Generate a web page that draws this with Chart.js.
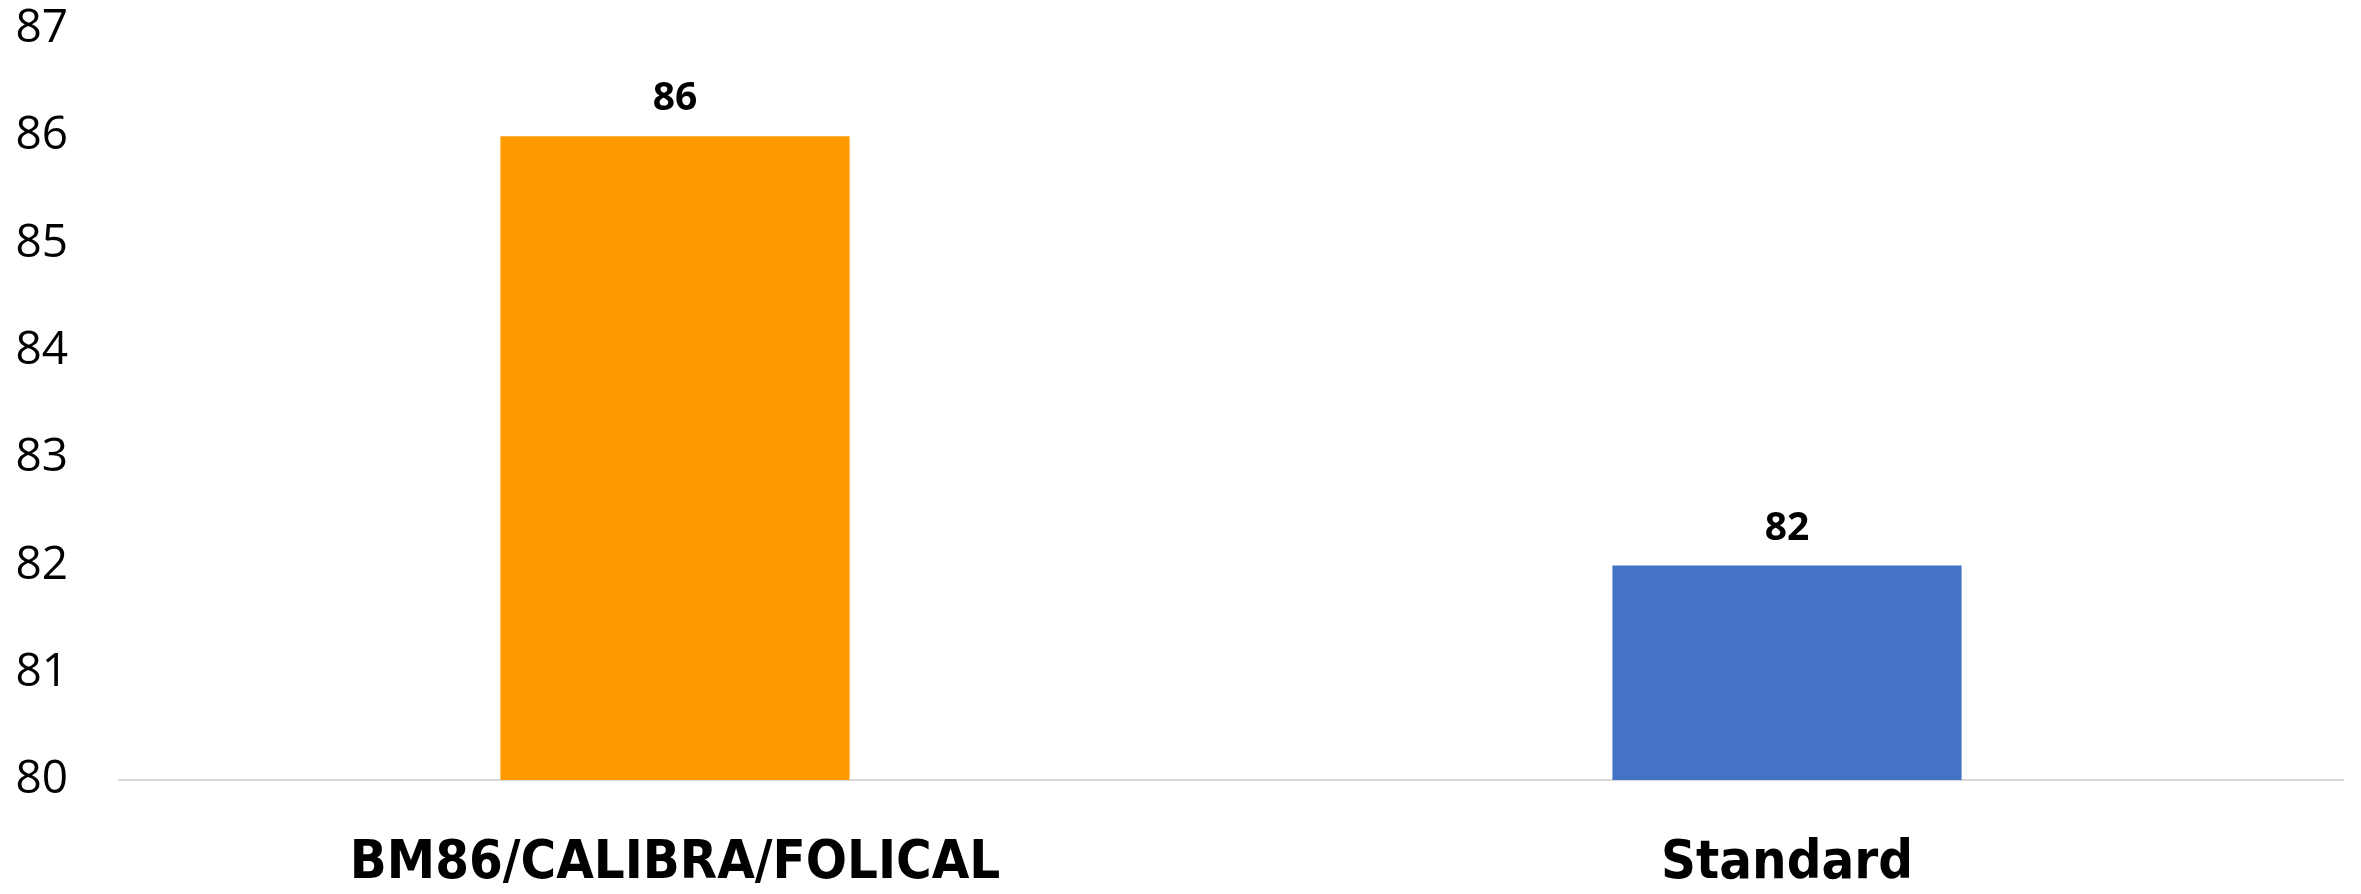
<!DOCTYPE html>
<html>
<head>
<meta charset="utf-8">
<script src="https://cdn.jsdelivr.net/npm/chart.js@4"></script>
<style>
  html, body { margin: 0; padding: 0; background: #fff; }
  #wrap { width: 2361px; height: 894px; }
</style>
</head>
<body>
<div id="wrap"><canvas id="barChart"></canvas></div>
<script>
// ---- data ----
const categories = ['BM86/CALIBRA/FOLICAL', 'Standard'];
const values     = [86, 82];
const barColors  = ['#FF9900', '#4472C4'];
const yTicks     = [80, 81, 82, 83, 84, 85, 86, 87];

// value labels above each bar
const valueLabels = {
  id: 'valueLabels',
  afterDatasetsDraw(chart) {
    const ctx = chart.ctx;
    const meta = chart.getDatasetMeta(0);
    ctx.save();
    ctx.font = 'bold 39px "Open Sans"';
    ctx.fillStyle = '#000';
    ctx.textAlign = 'center';
    ctx.textBaseline = 'middle';
    meta.data.forEach((bar, i) => {
      ctx.fillText(values[i], bar.x, bar.y - 37);
    });
    ctx.restore();
  }
};

const ctx = document.getElementById('barChart').getContext('2d');
new Chart(ctx, {
  type: 'bar',
  data: {
    labels: categories,
    datasets: [{
      data: values,
      backgroundColor: barColors,
      borderWidth: 0,
      categoryPercentage: 1,
      barPercentage: 0.314
    }]
  },
  options: {
    responsive: true,
    maintainAspectRatio: false,
    animation: false,
    layout: { padding: { left: 16, right: 18, top: 29, bottom: 0 } },
    plugins: {
      legend: { display: false },
      tooltip: { enabled: false }
    },
    scales: {
      y: {
        min: yTicks[0],
        max: yTicks[yTicks.length - 1],
        afterBuildTicks: axis => { axis.ticks = yTicks.map(v => ({ value: v })); },
        // fixed axis width, no extra padding above/below the plot
        afterFit: axis => { axis.width = 103; axis.paddingTop = 0; axis.paddingBottom = 0; },
        grid: { display: false, drawTicks: false },
        border: { display: false },
        ticks: {
          color: '#000',
          padding: 51,
          font: { family: '"Open Sans"', size: 46 }
        }
      },
      x: {
        afterFit: axis => { axis.height = 114; axis.paddingLeft = 0; axis.paddingRight = 0; },
        grid: { display: false, drawTicks: false },
        border: { display: true, color: '#d9d9d9', width: 2 },
        ticks: {
          color: '#000',
          padding: 52,
          font: { family: '"Liberation Sans Narrow", "DejaVu Sans Condensed", sans-serif', size: 54, weight: 'bold', lineHeight: 1.2 }
        }
      }
    }
  },
  plugins: [valueLabels]
});
</script>
</body>
</html>
